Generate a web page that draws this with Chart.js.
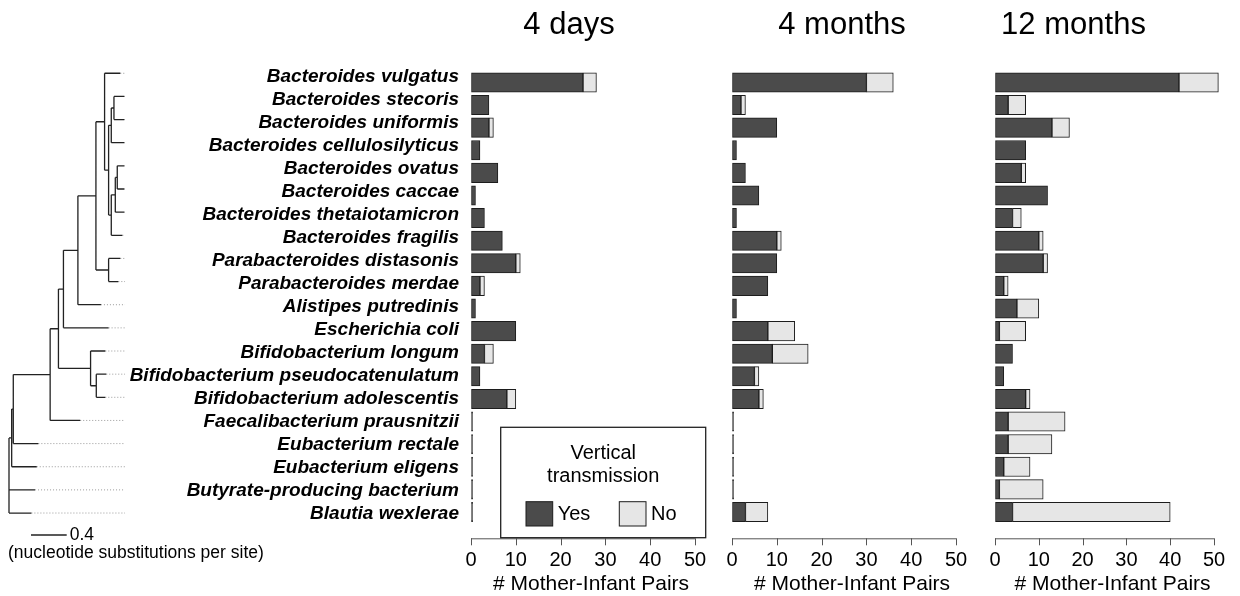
<!DOCTYPE html>
<html><head><meta charset="utf-8">
<script src="https://cdn.jsdelivr.net/npm/chart.js@4/dist/chart.umd.min.js"></script>
<style>
html,body{margin:0;padding:0;background:#fff;overflow:hidden;width:1240px;height:596px;}
.box{position:absolute;top:0;height:596px;}
canvas{display:block;}
</style></head><body>
<div class="box" style="left:0;width:300px"><canvas id="tree"></canvas></div>
<div class="box" style="left:0;width:470px"><canvas id="labels"></canvas></div>
<div class="box" style="left:446px;width:274px"><canvas id="p1"></canvas></div>
<div class="box" style="left:707px;width:274px"><canvas id="p2"></canvas></div>
<div class="box" style="left:970px;width:269px"><canvas id="p3"></canvas></div>
<script>
// ---------- DATA ----------
const species = [
  'Bacteroides vulgatus','Bacteroides stecoris','Bacteroides uniformis','Bacteroides cellulosilyticus',
  'Bacteroides ovatus','Bacteroides caccae','Bacteroides thetaiotamicron','Bacteroides fragilis',
  'Parabacteroides distasonis','Parabacteroides merdae','Alistipes putredinis','Escherichia coli',
  'Bifidobacterium longum','Bifidobacterium pseudocatenulatum','Bifidobacterium adolescentis',
  'Faecalibacterium prausnitzii','Eubacterium rectale','Eubacterium eligens',
  'Butyrate-producing bacterium','Blautia wexlerae'
];
const panelTitles = ['4 days', '4 months', '12 months'];
const yes4d  = [25,4,4,2,6,1,3,7,10,2,1,10,3,2,8,0,0,0,0,0];
const no4d   = [3,0,1,0,0,0,0,0,1,1,0,0,2,0,2,0,0,0,0,0];
const yes4m  = [30,2,10,1,3,6,1,10,10,8,1,8,9,5,6,0,0,0,0,3];
const no4m   = [6,1,0,0,0,0,0,1,0,0,0,6,8,1,1,0,0,0,0,5];
const yes12m = [42,3,13,7,6,12,4,10,11,2,5,1,4,2,7,3,3,2,1,4];
const no12m  = [9,4,4,0,1,0,2,1,1,1,5,6,0,0,1,13,10,6,10,36];
const seriesNames = ['Yes', 'No'];
const xTicks = [0,10,20,30,40,50];
const xTitle = '# Mother-Infant Pairs';
const legendTitle = ['Vertical', 'transmission'];
// phylogeny (leaf names = row index in species), branch lengths in substitutions/site
const treeNewick = "(((((((((0:0.176,(((1:0.116,2:0.116):0.030,3:0.146):0.030,(((4:0.079,5:0.079):0.022,6:0.101):0.045,7:0.124):0.030):0.045):0.097,(8:0.131,9:0.109):0.142):0.202,10:0.258):0.162,11:0.506):0.056,(12:0.165,(13:0.112,14:0.101):0.064):0.360):0.093,15:0.337):0.413,16:0.281):0.018,17:0.281):0.030,18:0.292,19:0.251);";
const scaleBarLength = 0.4;
const scaleBarStart = 0.2465;
const scaleBarCaption = '(nucleotide substitutions per site)';
const dottedEnd = 1.30;

// ---------- STYLE ----------
const FONT = '"Liberation Sans", Arial, Helvetica, sans-serif';
Chart.defaults.font.family = FONT;
Chart.defaults.color = '#000';
const YES_COLOR = '#4b4b4b', NO_COLOR = '#e6e6e6', EDGE = '#1c1c1c', AXIS = '#555';

// ---------- TREE ----------
function parseNewick(s){
  let i = 0;
  function node(){
    const n = {children: []};
    if (s[i] === '('){
      i++; n.children.push(node());
      while (s[i] === ','){ i++; n.children.push(node()); }
      i++;
    }
    let name = '';
    while (i < s.length && !':,);'.includes(s[i])) name += s[i++];
    n.name = name;
    n.len = 0;
    if (s[i] === ':'){ i++; let num=''; while (i < s.length && !',);'.includes(s[i])) num += s[i++]; n.len = parseFloat(num); }
    return n;
  }
  return node();
}
const root = parseNewick(treeNewick);
const branchPts = [], dotPts = [], leaves = [];
(function layout(n, depth){
  n.x = depth + n.len;
  if (!n.children.length){ n.y = parseInt(n.name, 10); leaves.push(n); return; }
  n.children.forEach(c => layout(c, n.x));
  const c0 = n.children[0], c1 = n.children[n.children.length-1];
  n.y = (c0.y + c1.y) / 2;
  branchPts.push({x:n.x, y:c0.y}, {x:n.x, y:c1.y}, {x:null, y:null});
  n.children.forEach(c => branchPts.push({x:n.x, y:c.y}, {x:c.x, y:c.y}, {x:null, y:null}));
})(root, -root.len);
leaves.forEach(l => { if (l.x < dottedEnd) dotPts.push({x:l.x, y:l.y}, {x:dottedEnd, y:l.y}, {x:null, y:null}); });
const barY = 19.95;

const treeText = {
  id: 'treeText',
  afterDraw(chart){
    const ctx = chart.ctx, xs = chart.scales.x, ys = chart.scales.y;
    ctx.save();
    ctx.fillStyle = '#000';
    ctx.font = '17.5px ' + FONT;
    ctx.textBaseline = 'middle';
    ctx.textAlign = 'left';
    ctx.fillText(String(scaleBarLength), xs.getPixelForValue(scaleBarStart + scaleBarLength) + 3, ys.getPixelForValue(barY));
    ctx.fillText(scaleBarCaption, 8, ys.getPixelForValue(barY) + 18);
    ctx.restore();
  }
};

new Chart(document.getElementById('tree'), {
  type: 'scatter',
  data: { datasets: [
    { data: branchPts, showLine: true, spanGaps: false, borderColor: '#222', borderWidth: 1.3, pointRadius: 0, clip: false },
    { data: dotPts, showLine: true, spanGaps: false, borderColor: '#9a9a9a', borderWidth: 1, borderDash: [1, 2], pointRadius: 0, clip: false },
    { data: [{x:scaleBarStart, y:barY}, {x:scaleBarStart + scaleBarLength, y:barY}], showLine: true, borderColor: '#222', borderWidth: 1.5, pointRadius: 0, clip: false }
  ]},
  options: {
    responsive: true, maintainAspectRatio: false, animation: false,
    layout: { padding: { top: 61.7, bottom: 71.4, left: 9, right: 165 } },
    plugins: { legend: { display: false }, tooltip: { enabled: false } },
    scales: {
      x: { type: 'linear', min: 0, max: 1.4118, display: false },
      y: { type: 'linear', min: -0.5, max: 19.5, reverse: true, display: false }
    }
  },
  plugins: [treeText]
});

// ---------- SPECIES LABELS ----------
new Chart(document.getElementById('labels'), {
  type: 'bar',
  data: { labels: species, datasets: [] },
  options: {
    indexAxis: 'y',
    responsive: true, maintainAspectRatio: false, animation: false,
    layout: { padding: { top: 65, bottom: 71, left: 0, right: 0 } },
    plugins: { legend: { display: false }, tooltip: { enabled: false } },
    scales: {
      y: { type: 'category', offset: true, position: 'left',
           grid: { display: false, drawTicks: false, tickLength: 0 }, border: { display: false },
           ticks: { autoSkip: false, padding: 2, color: '#000', font: { size: 19, style: 'italic', weight: 'bold' } },
           afterFit: s => { s.width = 461; } },
      x: { display: false }
    }
  }
});

// ---------- BAR PANELS ----------
const legendBox = {
  id: 'legendBox',
  afterDraw(chart){
    const ctx = chart.ctx, a = chart.chartArea;
    const L = a.left + 29.7, R = a.left + 234.7, T = 427.3, B = 537.7;
    ctx.save();
    ctx.fillStyle = '#fff'; ctx.fillRect(L, T, R - L, B - T);
    ctx.strokeStyle = '#222'; ctx.lineWidth = 1.3; ctx.strokeRect(L, T, R - L, B - T);
    ctx.fillStyle = '#000'; ctx.font = '20px ' + FONT;
    ctx.textAlign = 'center'; ctx.textBaseline = 'middle';
    const cx = (L + R) / 2;
    ctx.fillText(legendTitle[0], cx, 453.3);
    ctx.fillText(legendTitle[1], cx, 476.7);
    const sx = [a.left + 55, a.left + 148.3];
    chart.data.datasets.forEach((ds, k) => {
      ctx.fillStyle = ds.backgroundColor;
      ctx.fillRect(sx[k], 501.7, 26.7, 24.3);
      ctx.strokeStyle = EDGE; ctx.lineWidth = 1;
      ctx.strokeRect(sx[k], 501.7, 26.7, 24.3);
      ctx.fillStyle = '#000'; ctx.textAlign = 'left';
      ctx.fillText(ds.label, sx[k] + 31.7, 514);
    });
    ctx.restore();
  }
};

// axis line (offset below the plot region, as in the original), panel title and axis title
const panelDecor = {
  id: 'panelDecor',
  afterDraw(chart, args, opts){
    const ctx = chart.ctx, a = chart.chartArea, xs = chart.scales.x;
    const y0 = a.bottom + 15;
    ctx.save();
    ctx.strokeStyle = AXIS; ctx.lineWidth = 1;
    ctx.beginPath();
    ctx.moveTo(xs.getPixelForValue(xTicks[0]), y0 + 0.5);
    ctx.lineTo(xs.getPixelForValue(xTicks[xTicks.length-1]), y0 + 0.5);
    xTicks.forEach(v => { const px = Math.round(xs.getPixelForValue(v)) + 0.5; ctx.moveTo(px, y0); ctx.lineTo(px, y0 + 7); });
    ctx.stroke();
    ctx.fillStyle = '#000';
    ctx.textAlign = 'center'; ctx.textBaseline = 'middle';
    const cx = (a.left + a.right) / 2;
    ctx.font = '31px ' + FONT;
    ctx.fillText(opts.title, cx + opts.titleDx, 25.5);
    ctx.font = '21px ' + FONT;
    ctx.fillText(xTitle, cx + 8, 584);
    ctx.restore();
  }
};

function makePanel(id, title, titleDx, yes, no, withLegend){
  new Chart(document.getElementById(id), {
    type: 'bar',
    data: { labels: species, datasets: [
      { label: seriesNames[0], data: yes, backgroundColor: YES_COLOR, borderColor: EDGE, borderWidth: 1,
        borderSkipped: false, barThickness: 19.4, minBarLength: 1.6, clip: false },
      { label: seriesNames[1], data: no, backgroundColor: NO_COLOR, borderColor: EDGE, borderWidth: 1,
        borderSkipped: false, barThickness: 19.4, clip: false }
    ]},
    options: {
      indexAxis: 'y',
      responsive: true, maintainAspectRatio: false, animation: false,
      layout: { padding: { top: 71.1, bottom: 0, left: 25, right: 25 } },
      plugins: {
        legend: { display: false }, tooltip: { enabled: false }, title: { display: false },
        panelDecor: { title: title, titleDx: titleDx }
      },
      scales: {
        x: { type: 'linear', min: 0, max: 50, stacked: true, position: 'bottom',
             afterBuildTicks: s => { s.ticks = xTicks.map(v => ({ value: v })); },
             ticks: { autoSkip: false, maxRotation: 0, padding: 3, color: '#000', font: { size: 20 } },
             grid: { display: true, drawOnChartArea: false, drawTicks: true, tickLength: 22, color: 'rgba(0,0,0,0)' },
             border: { display: false },
             afterFit: s => { s.height = 72.7; } },
        y: { type: 'category', stacked: true, display: false }
      }
    },
    plugins: withLegend ? [panelDecor, legendBox] : [panelDecor]
  });
}
makePanel('p1', panelTitles[0], -14, yes4d, no4d, true);
makePanel('p2', panelTitles[1], -2, yes4m, no4m, false);
makePanel('p3', panelTitles[2], -31, yes12m, no12m, false);
</script>
</body></html>
